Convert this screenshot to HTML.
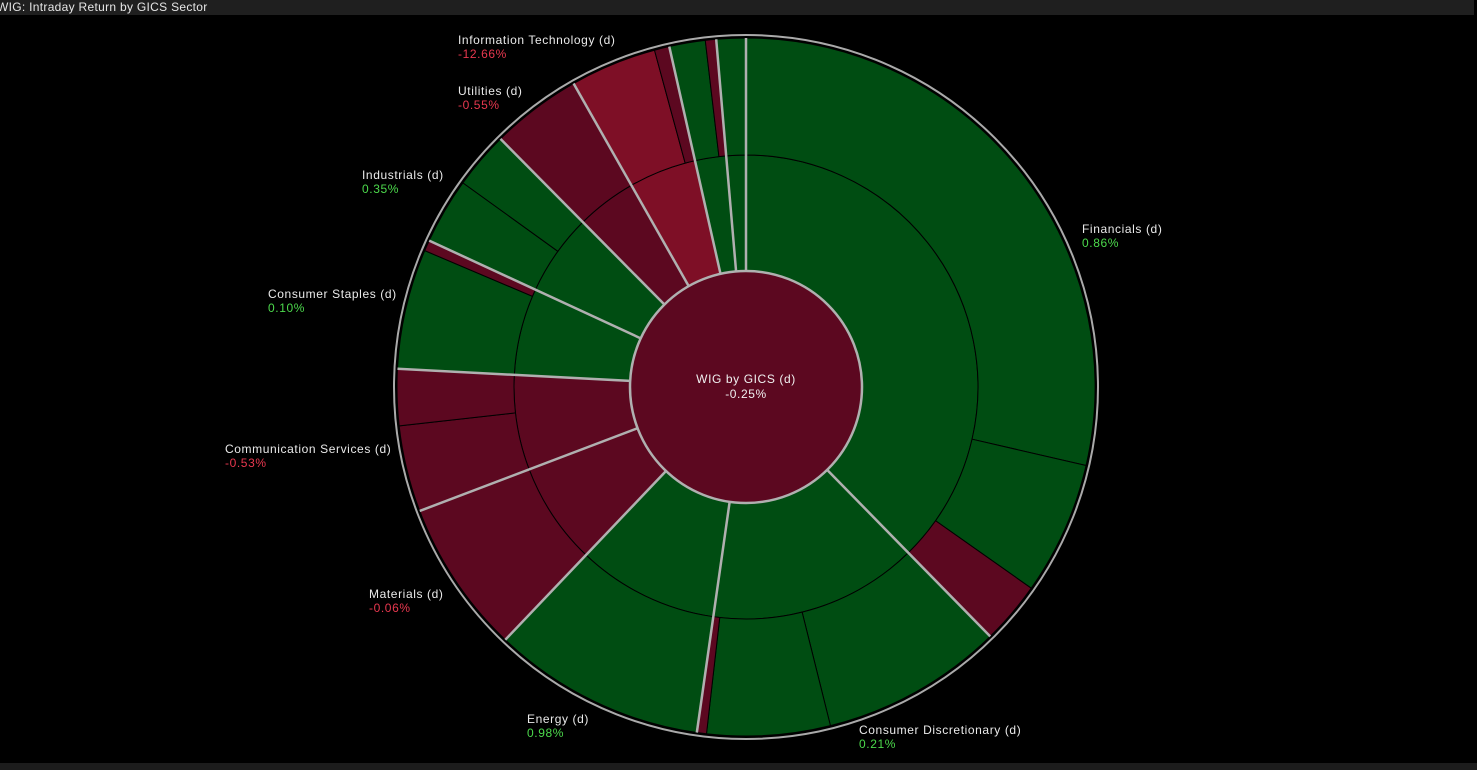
<!DOCTYPE html>
<html><head><meta charset="utf-8"><style>
body{margin:0;width:1477px;height:770px;background:#000;overflow:hidden;font-family:"Liberation Sans",sans-serif}
#title{position:absolute;left:0;top:0;width:1477px;height:15px;background:#1f1f1f;color:#e6e6e6;font-size:12px;line-height:15px;left:-3px;letter-spacing:0.3px}
#bottom{position:absolute;left:0;top:763px;width:1477px;height:7px;background:#1c1c1c}
svg{position:absolute;left:0;top:0}
</style></head><body>
<div id="title">WIG: Intraday Return by GICS Sector</div>
<div id="bottom"></div>
<svg id="c" width="1477" height="770"></svg>
<script>
const sectors=["Financials (d)","Consumer Discretionary (d)","Energy (d)","Materials (d)","Communication Services (d)","Consumer Staples (d)","Industrials (d)","Utilities (d)","Information Technology (d)","Health Care (d)","Real Estate (d)"];
const weights=[135.6,52.5,35.5,25.6,23.8,21.8,20.5,15.1,16.9,7.8,4.9];
const returns=[0.86,0.21,0.98,-0.06,-0.53,0.10,0.35,-0.55,-12.66,0.2,0.1];
const showLabel=[1,1,1,1,1,1,1,1,1,0,0];
const subWeights=[[103,22.2,10.4],[30.4,20.5,1.6],[35.5],[25.6],[14.4,9.4],[20,1.8],[11,9.5],[15.1],[14.4,2.5],[6,1.8],[4.9]];
const subReturns=[[1,1,-1],[1,1,-1],[1],[-1],[-1,-1],[1,-1],[1,1],[-1],[-2,-1],[1,-1],[1]];
const totalLabel="WIG by GICS (d)", totalReturn=-0.25;
const labelPos=[[1082,233],[859,734],[527,723],[369,598],[225,453],[268,298],[362,179],[458,95],[458,44]];
const cx=746,cy=387,r0=116,r1=232,r2=349;
const G="#004d12",R="#5c0820",RB="#7e0f26";
const svg=document.getElementById('c');const NS="http://www.w3.org/2000/svg";
function pt(r,a){const t=a*Math.PI/180;return [cx+r*Math.sin(t),cy-r*Math.cos(t)];}
function arc(ri,ro,a0,a1){const[x0,y0]=pt(ro,a0),[x1,y1]=pt(ro,a1),[x2,y2]=pt(ri,a1),[x3,y3]=pt(ri,a0);const l=(a1-a0)>180?1:0;
return `M${x0},${y0}A${ro},${ro} 0 ${l} 1 ${x1},${y1}L${x2},${y2}A${ri},${ri} 0 ${l} 0 ${x3},${y3}Z`;}
function col(v){return v<=-2?RB:(v<0?R:G);}
function mk(tag,attrs){const e=document.createElementNS(NS,tag);for(const k in attrs)e.setAttribute(k,attrs[k]);svg.appendChild(e);return e;}
let outerC=mk('circle',{cx:cx,cy:cy,r:352,fill:'none',stroke:'#aaa','stroke-width':2});


let a=0;const bounds=[];
sectors.forEach((s,i)=>{
 const a0=a,a1=a+weights[i];
 const mid=mk('path',{d:arc(r0,r1,a0,a1),fill:returns[i]<-5?RB:(returns[i]<0?R:G),stroke:'#000','stroke-width':1});
 
 
 let b=a0;
 subWeights[i].forEach((w,j)=>{
  const p=mk('path',{d:arc(r1,r2,b,b+w),fill:col(subReturns[i][j]),stroke:'#000','stroke-width':1});
  
  
  b+=w;
 });
 bounds.push(a0);a=a1;
});
bounds.forEach(b=>{const[x0,y0]=pt(r0,b),[x1,y1]=pt(r2,b);
 const l=mk('line',{x1:x0,y1:y0,x2:x1,y2:y1,stroke:'#b0b0b0','stroke-width':2.5});
 
 });
const inner=mk('circle',{cx:cx,cy:cy,r:r0,fill:R,stroke:'#b0b0b0','stroke-width':2.5});


function txt(x,y,t,fill,anchor){const e=mk('text',{x:x,y:y,fill:fill,'font-size':12,'letter-spacing':0.6,'font-family':'Liberation Sans, sans-serif','text-anchor':anchor||'start'});e.textContent=t;return e;}
let t1=txt(cx,cy-4,totalLabel,'#f0f0f0','middle');


let t2=txt(cx,cy+11,totalReturn.toFixed(2)+'%','#f0f0f0','middle');


sectors.forEach((s,i)=>{if(!showLabel[i])return;const[x,y]=labelPos[i];
 const n=txt(x,y,s,'#eaeaea');
 
 
 const v=txt(x,y+14,returns[i].toFixed(2)+'%',returns[i]<0?'#e8384f':'#4cd94c');
 
 });
</script>
</body></html>
